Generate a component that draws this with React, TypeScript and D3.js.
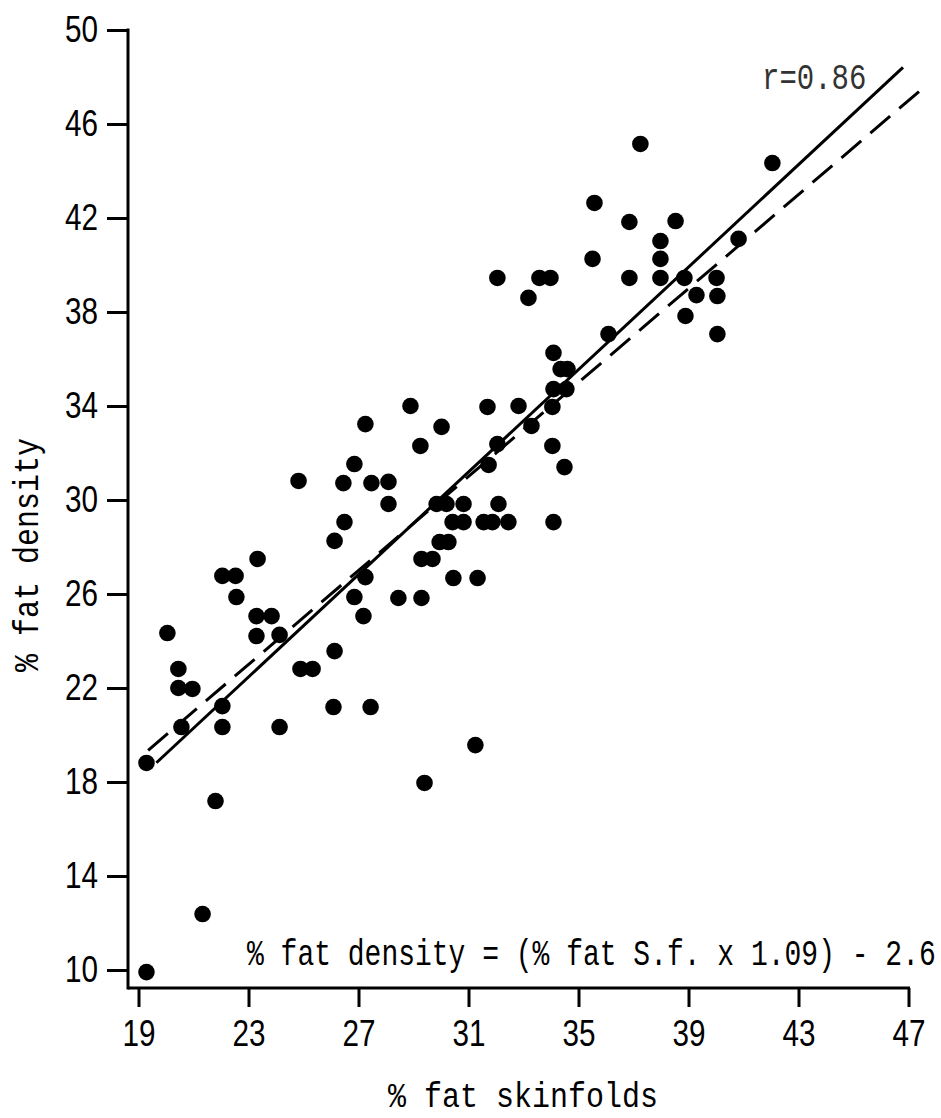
import React, { useEffect, useRef } from "react";
import * as d3 from "d3";

const xTicks = [19, 23, 27, 31, 35, 39, 43, 47];
const yTicks = [10, 14, 18, 22, 26, 30, 34, 38, 42, 46, 50];

const skinfoldFat = [
  19.29, 21.33, 21.8, 19.29, 20.56, 22.05, 24.13, 22.05, 20.45, 20.96,
  20.45, 20.05, 23.29, 24.13, 23.29, 23.84, 22.56, 22.05, 22.53, 23.33,
  24.89, 25.33, 26.09, 27.44, 26.13, 27.18, 26.85, 27.25, 26.13, 26.49,
  26.85, 24.82, 26.45, 27.47, 29.4, 31.25, 28.09, 28.09, 28.89, 27.25,
  29.25, 30.02, 29.84, 30.2, 30.82, 32.09, 30.42, 30.82, 31.55, 31.87,
  32.45, 34.09, 29.95, 30.27, 29.29, 29.69, 30.45, 31.33, 28.45, 29.29,
  31.69, 32.82, 34.05, 33.29, 32.05, 34.05, 34.49, 31.73, 34.09, 34.35,
  34.6, 34.09, 34.56, 36.09, 33.18, 32.05, 33.58, 33.98, 35.51, 35.58,
  37.25, 42.05, 36.85, 38.53, 37.98, 37.98, 36.85, 37.98, 38.85, 40.02,
  40.82, 39.29, 40.05, 38.89, 40.05,
];
const densityFat = [
  9.91, 12.38, 17.19, 18.81, 20.34, 20.34, 20.34, 21.23, 22.0, 21.96,
  22.81, 24.34, 24.21, 24.26, 25.06, 25.06, 25.87, 26.77, 26.77, 27.49,
  22.81, 22.81, 21.19, 21.19, 23.57, 25.06, 25.87, 26.72, 28.26, 29.06,
  31.53, 30.81, 30.72, 30.72, 17.96, 19.57, 30.77, 29.83, 34.0, 33.23,
  32.3, 33.11, 29.83, 29.83, 29.83, 29.83, 29.06, 29.06, 29.06, 29.06,
  29.06, 29.06, 28.21, 28.21, 27.49, 27.49, 26.68, 26.68, 25.83, 25.83,
  33.96, 34.0, 33.96, 33.15, 32.38, 32.3, 31.4, 31.49, 36.26, 35.57,
  35.57, 34.72, 34.72, 37.06, 38.6, 39.45, 39.45, 39.45, 40.26, 42.64,
  45.15, 44.34, 41.83, 41.87, 41.02, 40.26, 39.45, 39.45, 39.45, 39.45,
  41.11, 38.72, 38.68, 37.83, 37.06,
];

// regression: % fat density = 1.09 * skinfold - 2.6 ; identity line dashed
const regressionX = [19.65, 46.8];
const identityX = [19.35, 47.55];
const slope = 1.09;
const intercept = -2.6;

const W = 941;
const H = 1118;

export default function App() {
  const gx = useRef<SVGGElement>(null);
  const gy = useRef<SVGGElement>(null);

  const x = d3.scaleLinear().domain([19, 47]).range([138.5, 908.5]);
  const y = d3.scaleLinear().domain([10, 50]).range([970, 30]);

  const axisX = 128;
  const axisY = 988;

  useEffect(() => {
    const styleTicks = (s: any) => {
      s.select(".domain").remove();
      s.selectAll("line").attr("stroke", "#000").attr("stroke-width", 3);
      s.selectAll("text")
        .attr("fill", "#000")
        .attr("textLength", 33)
        .attr("lengthAdjust", "spacingAndGlyphs")
        .style("font-family", "'Liberation Sans', Arial, sans-serif")
        .style("font-size", "36px");
    };
    if (gx.current) {
      const s = d3.select(gx.current);
      s.selectAll("*").remove();
      s.call(
        d3.axisBottom(x).tickValues(xTicks).tickSize(19).tickSizeOuter(0).tickPadding(13)
      );
      styleTicks(s);
    }
    if (gy.current) {
      const s = d3.select(gy.current);
      s.selectAll("*").remove();
      s.call(
        d3.axisLeft(y).tickValues(yTicks).tickSize(21).tickSizeOuter(0).tickPadding(9)
      );
      styleTicks(s);
    }
  }, []);

  const solid = d3
    .line<number>()
    .x((d) => x(d))
    .y((d) => y(slope * d + intercept))(regressionX);
  const dashed = d3
    .line<number>()
    .x((d) => x(d))
    .y((d) => y(d))(identityX);

  const mono = "'Liberation Mono', 'DejaVu Sans Mono', monospace";

  return (
    <svg
      width={W}
      height={H}
      style={{ position: "absolute", left: 0, top: 0, background: "#fff" }}
    >
      <rect x={0} y={0} width={W} height={H} fill="#fff" />
      <line x1={axisX} x2={axisX} y1={y(50) - 1.5} y2={axisY + 1.5} stroke="#000" strokeWidth={3} />
      <line x1={axisX} x2={x(47) + 1.5} y1={axisY} y2={axisY} stroke="#000" strokeWidth={3} />
      <g ref={gy} transform={`translate(${axisX},0)`} />
      <g ref={gx} transform={`translate(0,${axisY})`} />

      <path d={dashed || ""} fill="none" stroke="#000" strokeWidth={3} strokeDasharray="26,12" />
      <path d={solid || ""} fill="none" stroke="#000" strokeWidth={3} />

      {skinfoldFat.map((v, i) => (
        <circle key={i} cx={x(v)} cy={y(densityFat[i])} r={8.3} fill="#000" />
      ))}

      <text
        transform="translate(762,89) scale(1,1.25)"
        fontFamily={mono}
        fontSize={29}
        fill="#333"
      >
        r=0.86
      </text>
      <text
        transform="translate(247,965) scale(1,1.33)"
        fontFamily={mono}
        fontSize={28}
        fill="#000"
      >
        % fat density = (% fat S.f. x 1.09) - 2.6
      </text>
      <text
        transform="translate(523,1107) scale(1,1.15)"
        textAnchor="middle"
        fontFamily={mono}
        fontSize={30}
        fill="#000"
      >
        % fat skinfolds
      </text>
      <text
        transform="translate(38,555) rotate(-90) scale(1,1.15)"
        textAnchor="middle"
        fontFamily={mono}
        fontSize={30}
        fill="#000"
      >
        % fat density
      </text>
    </svg>
  );
}
